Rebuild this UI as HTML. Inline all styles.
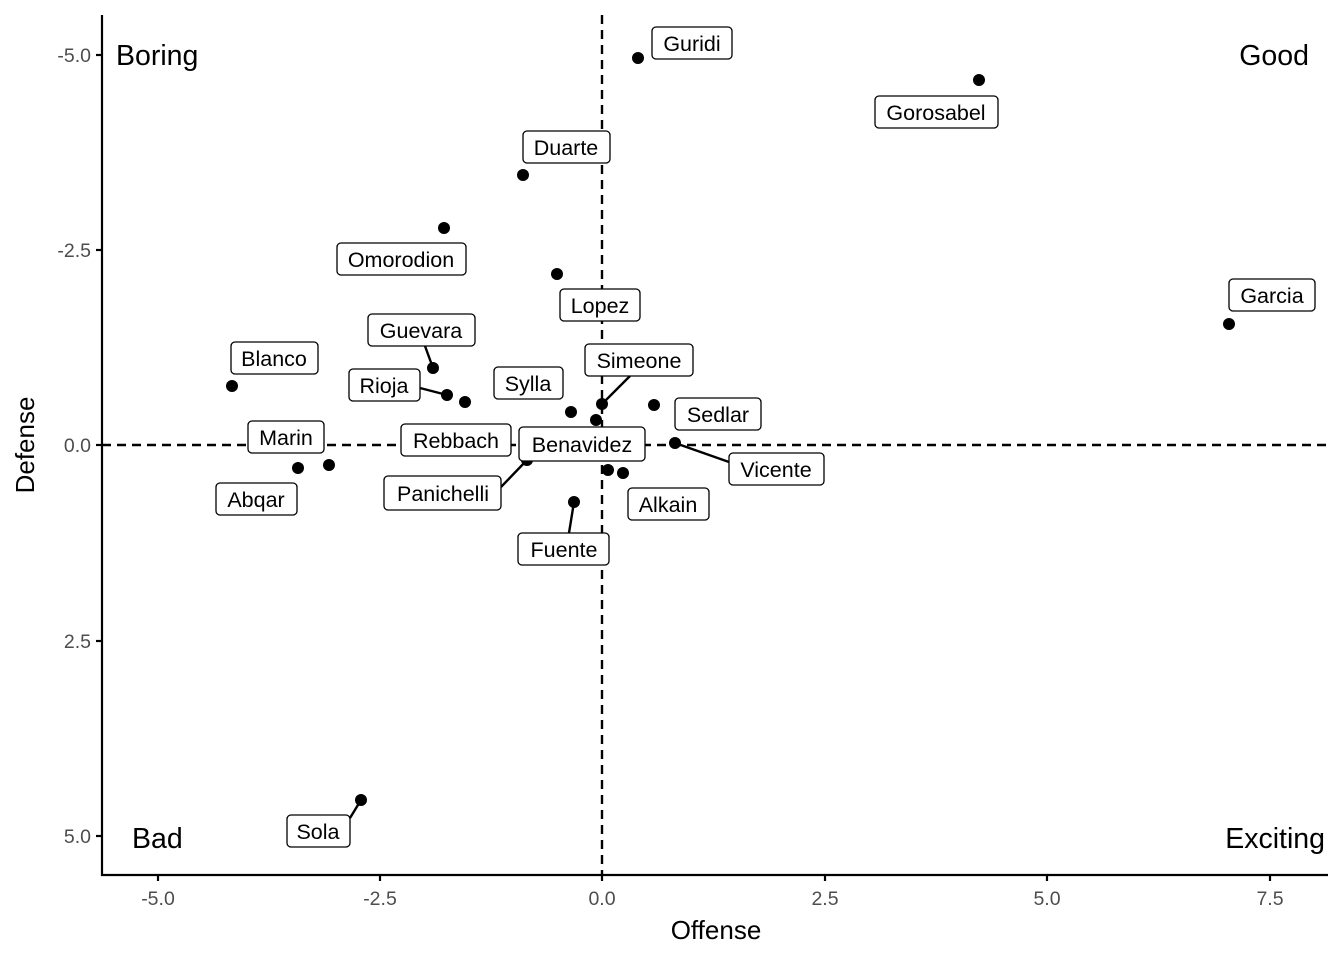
<!DOCTYPE html>
<html><head><meta charset="utf-8"><style>body{margin:0;background:#fff}svg{display:block}</style></head><body>
<svg width="1344" height="960" xmlns="http://www.w3.org/2000/svg" font-family="Liberation Sans, Arial, sans-serif">
<rect width="1344" height="960" fill="#fff"/>
<g stroke="#000" stroke-width="2.4" stroke-dasharray="9,6" fill="none">
<line x1="602" y1="15" x2="602" y2="875"/>
<line x1="102" y1="445" x2="1328" y2="445"/>
</g>
<g stroke="#000" stroke-width="2.2" fill="none">
<line x1="102" y1="15" x2="102" y2="876"/>
<line x1="101" y1="875" x2="1328" y2="875"/>
<line x1="96" y1="55" x2="102" y2="55"/><line x1="96" y1="250" x2="102" y2="250"/><line x1="96" y1="445" x2="102" y2="445"/><line x1="96" y1="641" x2="102" y2="641"/><line x1="96" y1="836" x2="102" y2="836"/>
<line x1="158" y1="875" x2="158" y2="881"/><line x1="380" y1="875" x2="380" y2="881"/><line x1="602" y1="875" x2="602" y2="881"/><line x1="825" y1="875" x2="825" y2="881"/><line x1="1047" y1="875" x2="1047" y2="881"/><line x1="1270" y1="875" x2="1270" y2="881"/>
</g>
<g font-size="19.5" fill="#4d4d4d" text-anchor="end">
<text x="91" y="62">-5.0</text><text x="91" y="257">-2.5</text><text x="91" y="452">0.0</text><text x="91" y="648">2.5</text><text x="91" y="843">5.0</text>
</g>
<g font-size="19.5" fill="#4d4d4d" text-anchor="middle">
<text x="158" y="905">-5.0</text><text x="380" y="905">-2.5</text><text x="602" y="905">0.0</text><text x="825" y="905">2.5</text><text x="1047" y="905">5.0</text><text x="1270" y="905">7.5</text>
</g>
<text x="716" y="939" font-size="26" text-anchor="middle">Offense</text>
<text transform="translate(34,445) rotate(-90)" font-size="26" text-anchor="middle">Defense</text>
<g font-size="28.5">
<text x="116" y="65">Boring</text><text x="1309" y="65" text-anchor="end">Good</text>
<text x="132" y="848">Bad</text><text x="1325" y="848" text-anchor="end">Exciting</text>
</g>
<g stroke="#000" stroke-width="2.4">
<line x1="425" y1="346" x2="433" y2="368"/><line x1="420" y1="388" x2="447" y2="395"/><line x1="630" y1="376" x2="602" y2="404"/><line x1="729" y1="462" x2="675" y2="443"/><line x1="501" y1="487" x2="527" y2="460"/><line x1="569" y1="533" x2="574" y2="502"/><line x1="350" y1="818" x2="361" y2="800"/>
</g>
<g fill="#000">
<circle cx="638" cy="58" r="6"/><circle cx="979" cy="80" r="6"/><circle cx="523" cy="175" r="6"/><circle cx="444" cy="228" r="6"/><circle cx="557" cy="274" r="6"/><circle cx="1229" cy="324" r="6"/><circle cx="232" cy="386" r="6"/><circle cx="433" cy="368" r="6"/><circle cx="447" cy="395" r="6"/><circle cx="465" cy="402" r="6"/><circle cx="571" cy="412" r="6"/><circle cx="596" cy="420" r="6"/><circle cx="602" cy="404" r="6"/><circle cx="654" cy="405" r="6"/><circle cx="675" cy="443" r="6"/><circle cx="527" cy="460" r="6"/><circle cx="608" cy="470" r="6"/><circle cx="623" cy="473" r="6"/><circle cx="574" cy="502" r="6"/><circle cx="329" cy="465" r="6"/><circle cx="298" cy="468" r="6"/><circle cx="361" cy="800" r="6"/>
</g>
<g fill="#fff" stroke="#000" stroke-width="1.3">
<rect x="652" y="27" width="80" height="32" rx="4"/><rect x="875" y="96" width="123" height="32" rx="4"/><rect x="523" y="131" width="87" height="32" rx="4"/><rect x="337" y="243" width="129" height="32" rx="4"/><rect x="560" y="289" width="80" height="32" rx="4"/><rect x="1229" y="279" width="86" height="32" rx="4"/><rect x="231" y="342" width="87" height="32" rx="4"/><rect x="368" y="314" width="107" height="32" rx="4"/><rect x="349" y="369" width="71" height="32" rx="4"/><rect x="494" y="367" width="69" height="32" rx="4"/><rect x="585" y="344" width="108" height="32" rx="4"/><rect x="675" y="398" width="86" height="32" rx="4"/><rect x="401" y="424" width="110" height="32" rx="4"/><rect x="519" y="427" width="126" height="34" rx="4"/><rect x="384" y="476" width="117" height="34" rx="4"/><rect x="729" y="453" width="95" height="32" rx="4"/><rect x="628" y="488" width="81" height="32" rx="4"/><rect x="518" y="533" width="91" height="32" rx="4"/><rect x="248" y="421" width="76" height="32" rx="4"/><rect x="216" y="483" width="81" height="32" rx="4"/><rect x="287" y="815" width="63" height="32" rx="4"/>
</g>
<g font-size="21.5" text-anchor="middle" fill="#000">
<text x="692" y="51">Guridi</text><text x="936" y="120">Gorosabel</text><text x="566" y="155">Duarte</text><text x="401" y="267">Omorodion</text><text x="600" y="313">Lopez</text><text x="1272" y="303">Garcia</text><text x="274" y="366">Blanco</text><text x="421" y="338">Guevara</text><text x="384" y="393">Rioja</text><text x="528" y="391">Sylla</text><text x="639" y="368">Simeone</text><text x="718" y="422">Sedlar</text><text x="456" y="448">Rebbach</text><text x="582" y="452">Benavidez</text><text x="443" y="501">Panichelli</text><text x="776" y="477">Vicente</text><text x="668" y="512">Alkain</text><text x="564" y="557">Fuente</text><text x="286" y="445">Marin</text><text x="256" y="507">Abqar</text><text x="318" y="839">Sola</text>
</g>
</svg>
</body></html>
